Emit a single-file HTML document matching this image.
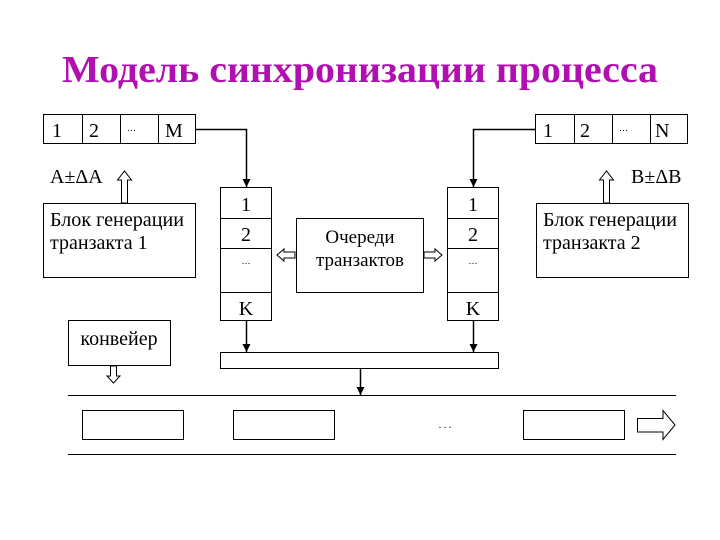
<!DOCTYPE html>
<html><head><meta charset="utf-8"><style>
html,body{margin:0;padding:0;background:#fff;}
svg{display:block}
text{font-family:"Liberation Serif","Noto Serif CJK SC",serif;fill:#000}
</style></head><body>
<svg width="720" height="540" viewBox="0 0 720 540" xmlns="http://www.w3.org/2000/svg">
<defs><marker id="a" markerWidth="8" markerHeight="8" refX="8" refY="4" orient="auto" markerUnits="userSpaceOnUse"><path d="M0,0 L8,4 L0,8 z" fill="#000"/></marker></defs>
<text x="360" y="82" text-anchor="middle" font-size="38" font-weight="bold" style="fill:#b010b0" textLength="596" lengthAdjust="spacingAndGlyphs">Модель синхронизации процесса</text>
<g fill="none" stroke="#000" stroke-width="1">
<rect x="43.5" y="114.5" width="152" height="29"/>
<line x1="82.5" y1="114" x2="82.5" y2="143"/><line x1="120.5" y1="114" x2="120.5" y2="143"/><line x1="158.5" y1="114" x2="158.5" y2="143"/>
<rect x="535.5" y="114.5" width="152" height="29"/>
<line x1="574.5" y1="114" x2="574.5" y2="143"/><line x1="612.5" y1="114" x2="612.5" y2="143"/><line x1="650.5" y1="114" x2="650.5" y2="143"/>
<rect x="43.5" y="203.5" width="152" height="74"/>
<rect x="536.5" y="203.5" width="152" height="74"/>
<rect x="220.5" y="187.5" width="51" height="133"/>
<line x1="220" y1="218.5" x2="271" y2="218.5"/><line x1="220" y1="248.5" x2="271" y2="248.5"/><line x1="220" y1="292.5" x2="271" y2="292.5"/>
<rect x="447.5" y="187.5" width="51" height="133"/>
<line x1="447" y1="218.5" x2="498" y2="218.5"/><line x1="447" y1="248.5" x2="498" y2="248.5"/><line x1="447" y1="292.5" x2="498" y2="292.5"/>
<rect x="296.5" y="218.5" width="127" height="74"/>
<rect x="68.5" y="320.5" width="102" height="45"/>
<rect x="220.5" y="352.5" width="278" height="16"/>
<rect x="82.5" y="410.5" width="101" height="29"/>
<rect x="233.5" y="410.5" width="101" height="29"/>
<rect x="523.5" y="410.5" width="101" height="29"/>
<line x1="68" y1="395.5" x2="676" y2="395.5"/>
<line x1="68" y1="454.5" x2="676" y2="454.5"/>
<g stroke-width="1.5">
<polyline points="195,129.5 246.5,129.5 246.5,187" marker-end="url(#a)"/>
<polyline points="535,129.5 473.5,129.5 473.5,187" marker-end="url(#a)"/>
<line x1="246.5" y1="321" x2="246.5" y2="352" marker-end="url(#a)"/>
<line x1="473.5" y1="321" x2="473.5" y2="352" marker-end="url(#a)"/>
<line x1="360.5" y1="369" x2="360.5" y2="395" marker-end="url(#a)"/>
</g>
<path d="M121.5,203 V180 H117.5 L124.5,171 L131.5,180 H127.5 V203 Z"/>
<path d="M603.5,203 V180 H599.5 L606.5,171 L613.5,180 H609.5 V203 Z"/>
<path d="M295,252 H284 V249 L277,255 L284,261 V258 H295 Z"/>
<path d="M424,252 H435 V249 L442,255 L435,261 V258 H424 Z"/>
<path d="M110.5,366 V376 H107 L113.5,383 L120,376 H116.5 V366 Z"/>
<path d="M637.5,418.5 H663 V410.5 L675,425 L663,439.5 V432 H637.5 Z"/>
</g>
<g font-size="20">
<text x="52" y="137">1</text><text x="89" y="137">2</text><text x="165" y="137">M</text>
<text x="127" y="131" font-size="9">…</text>
<text x="543" y="137">1</text><text x="580" y="137">2</text><text x="655" y="137">N</text>
<text x="619" y="131" font-size="9">…</text>
<text x="50" y="183">A±ΔA</text>
<text x="631" y="183">B±ΔB</text>
<text x="50" y="226" textLength="134" lengthAdjust="spacingAndGlyphs">Блок генерации</text><text x="50" y="249">транзакта 1</text>
<text x="543" y="226" textLength="134" lengthAdjust="spacingAndGlyphs">Блок генерации</text><text x="543" y="249">транзакта 2</text>
<text x="246" y="211" text-anchor="middle">1</text><text x="246" y="241" text-anchor="middle">2</text>
<text x="246" y="264" text-anchor="middle" font-size="9">…</text><text x="246" y="315" text-anchor="middle">K</text>
<text x="473" y="211" text-anchor="middle">1</text><text x="473" y="241" text-anchor="middle">2</text>
<text x="473" y="264" text-anchor="middle" font-size="9">…</text><text x="473" y="315" text-anchor="middle">K</text>
<text x="360" y="243" text-anchor="middle" font-size="19">Очереди</text><text x="360" y="266" text-anchor="middle" font-size="19">транзактов</text>
<text x="119" y="345" text-anchor="middle">конвейер</text>
<text x="445" y="428" text-anchor="middle" font-size="10">. . .</text>
</g>
</svg>
</body></html>
